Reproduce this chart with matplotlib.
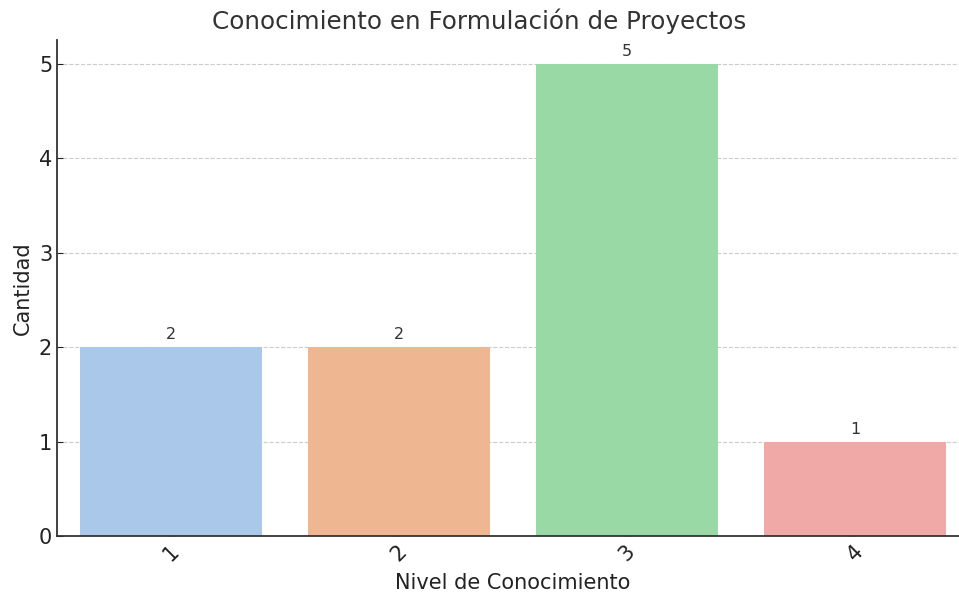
import matplotlib
matplotlib.use("Agg")
from matplotlib import pyplot as plt
import numpy as np

niveles = ['1', '2', '3', '4']
cantidad = [2, 2, 5, 1]
colores = ['#aac9ea', '#efb692', '#98d9a6', '#f0a9a7']

fig = plt.figure(figsize=(9.59, 5.94), dpi=100)
ax = fig.add_axes([57 / 959, 1 - 536 / 594, (969 - 57) / 959, (536 - 40) / 594])

x = np.arange(len(niveles))
bars = ax.bar(x, cantidad, width=0.8, color=colores, zorder=2)
for b, v in zip(bars, cantidad):
    ax.text(b.get_x() + b.get_width() / 2, v + 0.05, str(v), ha='center', va='bottom',
            fontsize=11.5, color='#333333')

ax.set_xlim(-0.5, 3.5)
ax.set_ylim(0, 5.25)
ax.set_xticks(x)
ax.set_xticklabels(niveles, rotation=45)
ax.set_yticks(range(6))
ax.tick_params(direction='in', labelsize=15, colors='#222222', length=4)
ax.yaxis.grid(True, linestyle='--', color='#cccccc', linewidth=0.8, zorder=0)
ax.set_axisbelow(True)
for s in ['top', 'right']:
    ax.spines[s].set_visible(False)
for s in ['left', 'bottom']:
    ax.spines[s].set_linewidth(1.3)
    ax.spines[s].set_color('#333333')

ax.set_xlabel('Nivel de Conocimiento', fontsize=15, color='#222222', labelpad=6)
ax.set_ylabel('Cantidad', fontsize=15, color='#222222')
ax.set_title('Conocimiento en Formulación de Proyectos', fontsize=17.7, color='#333333',
             x=(479 - 57) / 912, pad=8)

fig.savefig('out.png', dpi=100)
